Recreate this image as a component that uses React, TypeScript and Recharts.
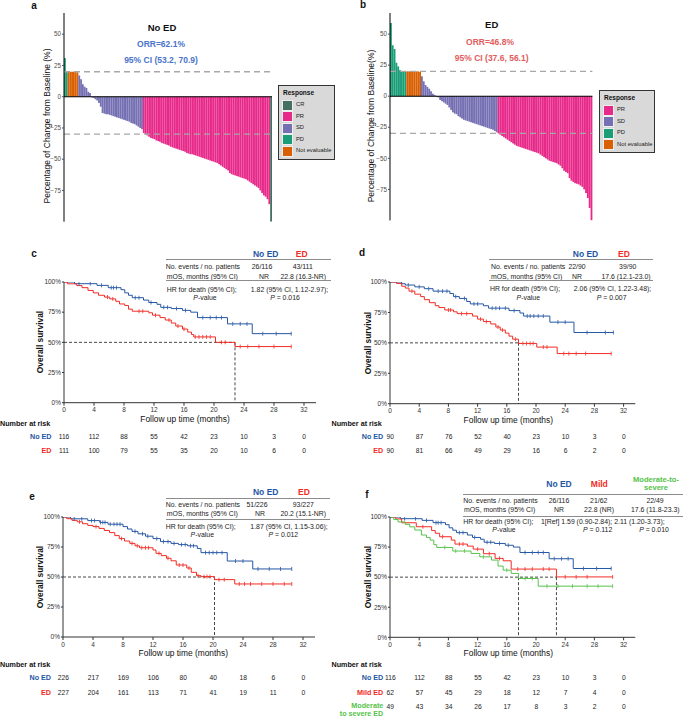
import React from 'react';
import { BarChart, Bar, XAxis, YAxis, ReferenceLine, LineChart, Line } from 'recharts';

const FONT = '"Liberation Sans", Arial, Helvetica, sans-serif';
const BLUE = '#2456a4';
const RED = '#f22b24';
const GREEN = '#56c24a';
const RESP_COLOR: Record<string, string> = { CR: '#43705f', PR: '#e7298a', SD: '#7570b3', PD: '#1b9e77', NE: '#d95f02' };

// ---- waterfall (best % change), bars in plotted order per response group ----
const noEdPD = [31, 20];
const noEdNE = [20, 20, 20, 20, 20, 19.5];
const noEdSD = [17, 14, 10, 8, 7, 4, 3, -0.5, -1, -2, -3, -5, -8, -13, -13.5, -14, -14, -14.5, -15, -15.5, -16, -16.5, -17, -17.5, -18, -18.5, -19, -19.5, -20, -21, -21.5, -22, -23, -24, -25, -26];
const noEdPR = [-29, -30, -31, -32, -33, -33.5, -34, -35, -35.5, -36, -37, -37.5, -38, -38.5, -39, -40, -40.5, -41, -41.5, -42, -42.5, -43, -43.5, -44, -45, -45.5, -46, -46, -46.5, -47, -47.5, -48, -48.5, -49, -49.5, -50, -50.5, -51, -51.5, -52, -52.5, -53, -54, -55, -56, -57, -58, -59, -61, -62, -62.5, -63, -63.5, -64, -64.5, -65, -65.5, -66, -67, -68, -69, -70, -71, -72, -73, -75, -77, -79, -80, -82, -86];
const noEdCR = [-100];

const edPD = [59, 41, 38, 27, 24, 21, 20, 20, 20];
const edNE = [20, 20, 20, 20, 20, 20, 20, 19.5];
const edSD = [16, 12, 9, 7.5, 6, 4, 2, 1, -0.5, -1, -3, -4, -5, -6, -7, -9, -11, -13, -14, -14.5, -16, -17, -18, -19, -19.5, -20, -20.5, -21, -21.5, -22, -22.5, -23, -23.5, -24, -24.5, -25, -25.5, -26, -26.5, -27, -28, -29];
const edPR = [-30, -31, -32, -33, -34, -35, -36, -37, -38, -39, -40, -40.5, -41, -41.5, -42, -42.5, -43, -43.5, -44, -44.5, -45, -45.5, -46, -47, -48, -49, -50, -51, -52, -52.5, -53, -53.5, -54, -55, -56, -58, -60, -61, -62, -66, -68, -69, -70, -70.5, -71, -72, -73, -75, -78, -82, -90, -100];

const WF_TICKS = [-100, -75, -50, -25, 0, 25, 50];

// ---- Kaplan-Meier steps [month, survival %], censor times ----
type Step = [number, number];
const cNoEdSteps: Step[] = [[0, 100], [1.4, 98.6], [4.4, 97.2], [5.9, 95.3], [7.6, 93.6], [8.1, 91], [8.6, 89], [9.1, 87], [10.6, 85], [11.3, 83], [12.4, 81.5], [12.9, 79], [14.3, 78], [15.8, 76.5], [16.9, 75], [17.8, 70.5], [21.8, 65.3], [25.1, 57.2]];
const cNoEdCensor = [2, 3.5, 5, 6.3, 6.6, 7, 9.5, 10, 11.6, 13.3, 13.8, 15, 16.2, 18.5, 19.5, 20.3, 21, 22.5, 23.5, 24.4, 26.5, 28.3, 30.3];
const cEdSteps: Step[] = [[0, 100], [0.45, 98.5], [1.7, 97], [2.4, 95.3], [3.2, 93], [3.9, 91], [4.6, 89], [5.4, 87.5], [6.1, 86], [6.9, 84], [7.4, 81.8], [8.1, 80.5], [8.6, 77.5], [9.1, 75.8], [11.3, 74.5], [11.8, 72.5], [12.8, 70.5], [13.5, 68.5], [14.3, 66], [14.9, 63.5], [15.8, 61], [16.5, 58.5], [17, 56.5], [17.3, 54.5], [20.2, 50], [22.8, 46.5]];
const cEdCensor = [5.8, 6.5, 10, 10.5, 12.2, 14, 15.2, 16, 17.5, 18, 18.5, 19, 19.5, 21, 21.5, 23.5, 24.5, 26, 28, 30.3];

const dNoEdSteps: Step[] = [[0, 100], [1.6, 98.6], [2.1, 97.5], [3.4, 96], [4.7, 94.5], [5.9, 92.5], [8.2, 90.5], [8.7, 88], [9.5, 86.5], [10.5, 84], [11, 82], [12.8, 80.5], [13.5, 78.5], [16.3, 76.5], [17.8, 74.5], [18.3, 72], [21.9, 67], [25.2, 58.5]];
const dNoEdCensor = [2.5, 4, 5.3, 6.6, 7.2, 7.8, 9, 10.2, 11.5, 12, 14, 14.5, 15, 15.8, 17, 18.8, 19.2, 19.7, 20.3, 21, 23, 24, 27, 29.5, 30.6];
const dEdSteps: Step[] = [[0, 100], [0.9, 98.8], [1.6, 96.5], [2.1, 95], [2.6, 92.5], [3.4, 90], [4.2, 88], [4.7, 85.5], [5.4, 83], [6.2, 80.5], [6.7, 79], [7.5, 77], [8.7, 75.5], [9.2, 74], [11.3, 72], [12, 69.5], [12.8, 67.5], [13.8, 65.5], [14.5, 63], [15.1, 60.5], [15.8, 58], [16.3, 55.5], [16.8, 53], [17.6, 49.5], [20.1, 46.5], [22.9, 41.2]];
const dEdCensor = [3, 8, 8.3, 9.8, 10.5, 12.4, 13.2, 14.8, 15.4, 17.2, 18.2, 18.7, 19.2, 19.6, 21, 21.5, 23.8, 24.5, 25.5, 26.8, 30.3];

const eNoEdSteps: Step[] = [[0, 100], [1, 98.5], [3.3, 97], [4.9, 95.5], [6, 94], [8, 92], [8.6, 90], [9.2, 88], [10, 86], [11, 84], [12, 82], [13, 79.5], [14.4, 78], [15.4, 77], [16.6, 76], [17.9, 73.8], [18.4, 70.3], [21.9, 63.3], [25.3, 56.7]];
const eNoEdCensor = [1.5, 2.5, 3.8, 4.2, 5, 5.3, 5.6, 6.3, 6.8, 7.2, 7.6, 9.6, 10.6, 11.3, 12.5, 13.4, 14, 14.8, 15.8, 16.3, 17, 17.4, 19, 19.5, 20, 20.5, 21.2, 23, 24, 26, 27.5, 29, 30.5];
const eEdSteps: Step[] = [[0, 100], [0.5, 98.6], [1.2, 97.2], [1.9, 96], [2.6, 94.4], [3.3, 93], [4, 92], [4.8, 90.5], [5.5, 88.8], [6.2, 87], [6.9, 84.5], [7.5, 82], [8.2, 80], [8.9, 78], [9.6, 76], [10.2, 74.4], [12, 72.5], [12.4, 69.7], [13.1, 67.8], [13.8, 65.6], [14.4, 63.5], [15.1, 60], [16.5, 57.5], [17.1, 53.9], [17.8, 51.1], [18.4, 50.3], [20.2, 47.8], [22.9, 44.2]];
const eEdCensor = [2.2, 4.4, 7.8, 9.2, 9.9, 10.5, 11, 11.4, 12.8, 14, 15.5, 16, 16.8, 18, 18.8, 19.2, 19.6, 20.8, 21.5, 23.5, 24.2, 25, 26.5, 28, 29.5, 30.5];

const fMildSteps: Step[] = [[0, 100], [0.8, 98.4], [1.6, 95.2], [3.6, 91.9], [5.7, 88.7], [6.2, 86.5], [6.8, 83.6], [8.4, 80.8], [8.9, 77.5], [10.6, 75.8], [11.4, 73.3], [12.8, 69.5], [14.4, 65.6], [15.5, 63.6], [16.6, 56.7], [22.8, 50.2]];
const fMildCensor = [4.5, 7.2, 9.5, 10, 12, 13.6, 15, 17.5, 18.5, 19.5, 21, 21.8, 24, 25.5, 27, 30.5];
const fModSteps: Step[] = [[0, 100], [0.5, 98], [1.1, 95.9], [2.1, 93.9], [2.7, 91.8], [3.4, 89.2], [4.3, 85], [5, 83], [5.5, 80.8], [6, 77], [6.4, 74.7], [8.6, 71.7], [11.1, 69.7], [12.3, 66.9], [13.9, 64.2], [14.8, 59.2], [15.5, 55.8], [16.6, 53.1], [17.6, 48.9], [20.3, 42.5]];
const fModCensor = [7.5, 9, 10.2, 12.8, 16, 18.5, 19.5, 21.5, 23, 25, 27, 28.5, 30.5];

const cMedians = [22.8];
const dMedians = [17.6];
const eMedians = [20.2];
const fMedians = [17.6, 22.8];

// ---- numbers at risk at 0,4,...,32 months ----
const MONTH_TICKS = [0, 4, 8, 12, 16, 20, 24, 28, 32];
const cRiskNoEd = [116, 112, 88, 55, 42, 23, 10, 3, 0];
const cRiskEd = [111, 100, 79, 55, 35, 20, 10, 6, 0];
const dRiskNoEd = [90, 87, 76, 52, 40, 23, 10, 3, 0];
const dRiskEd = [90, 81, 66, 49, 29, 16, 6, 2, 0];
const eRiskNoEd = [226, 217, 169, 106, 80, 40, 18, 6, 0];
const eRiskEd = [227, 204, 161, 113, 71, 41, 19, 11, 0];
const fRiskNoEd = [116, 112, 88, 55, 42, 23, 10, 3, 0];
const fRiskMild = [62, 57, 45, 29, 18, 12, 7, 4, 0];
const fRiskMod = [49, 43, 34, 26, 17, 8, 3, 2, 0];

const X_MAX = 33.6;
const TS = 6.9; // table text size

type Box = { x: number; y: number; w: number; h: number };
const boxA: Box = { x: 64, y: 13, w: 208, h: 208.7 };
const boxB: Box = { x: 390, y: 13.3, w: 202.4, h: 207.4 };
const boxC: Box = { x: 64, y: 282, w: 252, h: 120.7 };
const boxD: Box = { x: 390.3, y: 282, w: 245.3, h: 121.7 };
const boxE: Box = { x: 63.3, y: 517, w: 252, h: 120 };
const boxF: Box = { x: 390.3, y: 516.7, w: 245.3, h: 120.3 };

function group(vals: number[], r: string) {
  return vals.map(v => ({ v, r }));
}
const rowsA = [...group(noEdPD, 'PD'), ...group(noEdNE, 'NE'), ...group(noEdSD, 'SD'), ...group(noEdPR, 'PR'), ...group(noEdCR, 'CR')].map((d, i) => ({ ...d, i }));
const rowsB = [...group(edPD, 'PD'), ...group(edNE, 'NE'), ...group(edSD, 'SD'), ...group(edPR, 'PR')].map((d, i) => ({ ...d, i }));

function kmSeries(steps: Step[], censor: number[]) {
  const at = (t: number) => {
    let s = 100;
    for (const [tt, ss] of steps) if (tt <= t) s = ss;
    return s;
  };
  const pts = steps.map(([t, s]) => ({ t, s, c: false }));
  censor.forEach(t => pts.push({ t, s: at(t), c: true }));
  return pts.sort((a, b) => a.t - b.t);
}

type TP = { x: number; y: number; s?: number; b?: boolean; c?: string; a?: 'l' | 'c' | 'r'; rot?: boolean; children: React.ReactNode };
function T({ x, y, s = TS, b, c = '#222', a = 'c', rot, children }: TP) {
  const tx = a === 'l' ? '0' : a === 'r' ? '-100%' : '-50%';
  return (
    <div style={{ position: 'absolute', left: x, top: y, transform: `translate(${tx},-50%)${rot ? ' rotate(-90deg)' : ''}`, fontSize: s, fontWeight: b ? 700 : 400, color: c, whiteSpace: 'nowrap', lineHeight: 1 }}>
      {children}
    </div>
  );
}

function Rule({ x, y, w }: { x: number; y: number; w: number }) {
  return <div style={{ position: 'absolute', left: x, top: y - 0.6, width: w, height: 0, borderTop: '1.2px solid #8c8c8c' }} />;
}

function Waterfall({ box, rows }: { box: Box; rows: { v: number; r: string; i: number }[] }) {
  const padL = 30, padR = 4, padT = 2, padB = 2;
  const band = box.w / rows.length;
  const shape = (p: any) => {
    const top = Math.min(p.y, p.y + p.height);
    return <rect x={p.x} y={top} width={band} height={Math.abs(p.height)} fill={RESP_COLOR[p.payload.r]} />;
  };
  return (
    <div style={{ position: 'absolute', left: box.x - padL, top: box.y - padT }}>
      <BarChart width={box.w + padL + padR} height={box.h + padT + padB} data={rows} margin={{ top: padT, right: padR, bottom: padB, left: 0 }} barCategoryGap={0}>
        <XAxis dataKey="i" hide height={0} />
        <YAxis type="number" domain={[-100, 67]} ticks={WF_TICKS} allowDataOverflow width={padL}
          tickFormatter={(v: number) => String(v).replace('-', '\u2212')}
          tick={{ fontSize: 6.3, fill: '#4d4d4d' }} tickSize={2} tickMargin={1}
          tickLine={{ stroke: '#4d4d4d' }} axisLine={{ stroke: '#000', strokeWidth: 1 }} />
        <ReferenceLine y={20} stroke="#a8a8a8" strokeDasharray="6 4" strokeWidth={1.3} />
        <ReferenceLine y={-30} stroke="#a8a8a8" strokeDasharray="6 4" strokeWidth={1.3} />
        <Bar dataKey="v" isAnimationActive={false} shape={shape} />
        <ReferenceLine y={0} stroke="#000" strokeWidth={1.1} />
      </BarChart>
    </div>
  );
}

type Curve = { steps: Step[]; censor: number[]; color: string };
function KM({ box, curves, medians }: { box: Box; curves: Curve[]; medians: number[] }) {
  const padL = 40, padR = 8, padT = 6, axisH = 20;
  const censorDot = (color: string) => (p: any) =>
    p.payload && p.payload.c
      ? <line key={`c${p.index}`} x1={p.cx} x2={p.cx} y1={p.cy - 2} y2={p.cy + 2} stroke={color} strokeWidth={0.8} />
      : <g key={`n${p.index}`} />;
  const mMax = Math.max(...medians);
  return (
    <div style={{ position: 'absolute', left: box.x - padL, top: box.y - padT }}>
      <LineChart width={box.w + padL + padR} height={box.h + padT + axisH} margin={{ top: padT, right: padR, bottom: 0, left: 0 }}>
        <XAxis dataKey="t" type="number" domain={[0, X_MAX]} ticks={MONTH_TICKS} allowDataOverflow interval={0} height={axisH}
          tick={{ fontSize: 6.5, fill: '#333' }} tickSize={3} tickMargin={2}
          tickLine={{ stroke: '#333' }} axisLine={{ stroke: '#333', strokeWidth: 1 }} />
        <YAxis type="number" domain={[0, 100]} ticks={[0, 25, 50, 75, 100]} allowDataOverflow width={padL}
          tickFormatter={(v: number) => `${v}%`}
          tick={{ fontSize: 6.5, fill: '#333' }} tickSize={2} tickMargin={1}
          tickLine={{ stroke: '#333' }} axisLine={{ stroke: '#333', strokeWidth: 1 }} />
        <ReferenceLine segment={[{ x: 0, y: 50 }, { x: mMax, y: 50 }]} stroke="#333" strokeDasharray="3 2" strokeWidth={0.9} />
        {medians.map(m => (
          <ReferenceLine key={m} segment={[{ x: m, y: 50 }, { x: m, y: 0 }]} stroke="#333" strokeDasharray="3 2" strokeWidth={0.9} />
        ))}
        {curves.map((c, k) => (
          <Line key={k} data={kmSeries(c.steps, c.censor)} dataKey="s" type="stepAfter" stroke={c.color} strokeWidth={1}
            dot={censorDot(c.color)} activeDot={false} isAnimationActive={false} />
        ))}
      </LineChart>
    </div>
  );
}

function RiskRow({ box, y, vals }: { box: Box; y: number; vals: number[] }) {
  return (
    <>
      {vals.map((v, i) => (
        <T key={i} x={box.x + (MONTH_TICKS[i] * box.w) / X_MAX} y={y} s={6.7}>{v}</T>
      ))}
    </>
  );
}

function LegendBox({ x, y, w, h, items }: { x: number; y: number; w: number; h: number; items: string[] }) {
  const labels: Record<string, string> = { CR: 'CR', PR: 'PR', SD: 'SD', PD: 'PD', NE: 'Not evaluable' };
  return (
    <div style={{ position: 'absolute', left: x, top: y, width: w, height: h, background: '#d9d9d9', border: '1.2px solid #333', boxSizing: 'border-box' }}>
      <div style={{ position: 'absolute', left: 4, top: 4, fontSize: 6.5, fontWeight: 700, color: '#111', lineHeight: 1 }}>Response</div>
      {items.map((r, i) => (
        <div key={r} style={{ position: 'absolute', left: 4, top: 14.5 + i * 11.5, display: 'flex', alignItems: 'center' }}>
          <div style={{ width: 9, height: 9, background: RESP_COLOR[r], outline: '0.5px solid #eee' }} />
          <div style={{ marginLeft: 4, fontSize: 5.8, color: '#222', lineHeight: 1 }}>{labels[r]}</div>
        </div>
      ))}
    </div>
  );
}

export default function App() {
  return (
    <div style={{ position: 'absolute', left: 0, top: 0, width: 683, height: 717, background: '#fff', fontFamily: FONT, overflow: 'hidden' }}>
      {/* panel a */}
      <T x={34} y={6} s={10} b c="#111">a</T>
      <Waterfall box={boxA} rows={rowsA} />
      <T x={47} y={126} s={8.5} rot c="#111">Percentage of Change from Baseline (%)</T>
      <T x={162} y={28} s={9.5} b c="#111">No ED</T>
      <T x={161} y={44} s={8.5} b c="#4a74c9">ORR=62.1%</T>
      <T x={161} y={59.7} s={8.5} b c="#4a74c9">95% CI (53.2, 70.9)</T>
      <LegendBox x={278} y={85} w={57} h={75} items={['CR', 'PR', 'SD', 'PD', 'NE']} />

      {/* panel b */}
      <T x={363} y={5} s={10} b c="#111">b</T>
      <Waterfall box={boxB} rows={rowsB} />
      <T x={371} y={126} s={8.5} rot c="#111">Percentage of Change from Baseline(%)</T>
      <T x={491.7} y={25} s={9.5} b c="#111">ED</T>
      <T x={490} y={42.3} s={8.5} b c="#e25c5c">ORR=46.8%</T>
      <T x={491.7} y={57.7} s={8.5} b c="#e25c5c">95% CI (37.6, 56.1)</T>
      <LegendBox x={599} y={90} w={56} h={63} items={['PR', 'SD', 'PD', 'NE']} />

      {/* panel c */}
      <T x={34} y={254} s={10} b c="#111">c</T>
      <KM box={boxC} medians={cMedians} curves={[{ steps: cNoEdSteps, censor: cNoEdCensor, color: BLUE }, { steps: cEdSteps, censor: cEdCensor, color: RED }]} />
      <T x={40} y={342} s={8.4} b rot c="#111">Overall survival</T>
      <T x={185} y={419} s={8.4} c="#111">Follow up time (months)</T>
      <T x={265.7} y={253.7} s={8.5} b c={BLUE}>No ED</T>
      <T x={301.7} y={253.7} s={8.5} b c={RED}>ED</T>
      <Rule x={165.7} y={260} w={165.3} />
      <T x={165.7} y={266.7} a="l">No. events / no. patients</T>
      <T x={262} y={266.7}>26/116</T>
      <T x={302.7} y={266.7}>43/111</T>
      <T x={166.7} y={277} a="l">mOS, months (95% CI)</T>
      <T x={264} y={277}>NR</T>
      <T x={303.3} y={277}>22.8 (16.3-NR)</T>
      <Rule x={165.7} y={281} w={165.3} />
      <T x={166.7} y={289.5} a="l">HR for death (95% CI);</T>
      <T x={289.5} y={289.5}>1.82 (95% CI, 1.12-2.97);</T>
      <T x={205} y={297.5}><i>P</i>-value</T>
      <T x={285} y={297.5}><i>P</i> = 0.016</T>
      <T x={0} y={424.3} a="l" s={7.2} b c="#111">Number at risk</T>
      <T x={51.5} y={437.3} a="r" s={7.2} b c={BLUE}>No ED</T>
      <RiskRow box={boxC} y={437.3} vals={cRiskNoEd} />
      <T x={51.5} y={451} a="r" s={7.2} b c={RED}>ED</T>
      <RiskRow box={boxC} y={451} vals={cRiskEd} />

      {/* panel d */}
      <T x={362} y={253} s={10} b c="#111">d</T>
      <KM box={boxD} medians={dMedians} curves={[{ steps: dNoEdSteps, censor: dNoEdCensor, color: BLUE }, { steps: dEdSteps, censor: dEdCensor, color: RED }]} />
      <T x={368.3} y={343} s={8.4} b rot c="#111">Overall survival</T>
      <T x={508.3} y={420} s={8.4} c="#111">Follow up time (months)</T>
      <T x={585.5} y={253.7} s={8.5} b c={BLUE}>No ED</T>
      <T x={624} y={253.7} s={8.5} b c={RED}>ED</T>
      <Rule x={489.3} y={260} w={164} />
      <T x={491} y={266.7} a="l">No. events / no. patients</T>
      <T x={577} y={266.7}>22/90</T>
      <T x={627.7} y={266.7}>39/90</T>
      <T x={491} y={277} a="l">mOS, months (95% CI)</T>
      <T x={577} y={277}>NR</T>
      <T x={626} y={277}>17.6 (12.1-23.0)</T>
      <Rule x={489.3} y={281} w={164} />
      <T x={490} y={289} a="l">HR for death (95% CI);</T>
      <T x={612.5} y={289}>2.06 (95% CI, 1.22-3.48);</T>
      <T x={528.3} y={297.5}><i>P</i>-value</T>
      <T x={611.7} y={297.5}><i>P</i> = 0.007</T>
      <T x={331.5} y={424.3} a="l" s={7.2} b c="#111">Number at risk</T>
      <T x={383.3} y={437.3} a="r" s={7.2} b c={BLUE}>No ED</T>
      <RiskRow box={boxD} y={437.3} vals={dRiskNoEd} />
      <T x={383.3} y={451} a="r" s={7.2} b c={RED}>ED</T>
      <RiskRow box={boxD} y={451} vals={dRiskEd} />

      {/* panel e */}
      <T x={32} y={497} s={10} b c="#111">e</T>
      <KM box={boxE} medians={eMedians} curves={[{ steps: eNoEdSteps, censor: eNoEdCensor, color: BLUE }, { steps: eEdSteps, censor: eEdCensor, color: RED }]} />
      <T x={40} y={577} s={8.4} b rot c="#111">Overall survival</T>
      <T x={183.3} y={653.3} s={8.4} c="#111">Follow up time (months)</T>
      <T x={265.7} y={492.3} s={8.5} b c={BLUE}>No ED</T>
      <T x={304} y={492.3} s={8.5} b c={RED}>ED</T>
      <Rule x={165.7} y={499} w={164.3} />
      <T x={165.7} y={505} a="l">No. events / no. patients</T>
      <T x={257} y={505}>51/226</T>
      <T x={303.3} y={505}>93/227</T>
      <T x={166.7} y={514} a="l">mOS, months (95% CI)</T>
      <T x={260} y={514}>NR</T>
      <T x={303.3} y={514}>20.2 (15.1-NR)</T>
      <Rule x={165.7} y={520} w={164.3} />
      <T x={165.7} y={526.7} a="l">HR for death (95% CI);</T>
      <T x={289} y={526.7}>1.87 (95% CI, 1.15-3.06);</T>
      <T x={202.3} y={534.7}><i>P</i>-value</T>
      <T x={283.3} y={534.7}><i>P</i> = 0.012</T>
      <T x={0} y={665} a="l" s={7.2} b c="#111">Number at risk</T>
      <T x={51} y={678.3} a="r" s={7.2} b c={BLUE}>No ED</T>
      <RiskRow box={boxE} y={678.3} vals={eRiskNoEd} />
      <T x={51} y={692.7} a="r" s={7.2} b c={RED}>ED</T>
      <RiskRow box={boxE} y={692.7} vals={eRiskEd} />

      {/* panel f */}
      <T x={367} y={495} s={10} b c="#111">f</T>
      <KM box={boxF} medians={fMedians} curves={[{ steps: cNoEdSteps, censor: cNoEdCensor, color: BLUE }, { steps: fMildSteps, censor: fMildCensor, color: RED }, { steps: fModSteps, censor: fModCensor, color: GREEN }]} />
      <T x={368.3} y={577} s={8.4} b rot c="#111">Overall survival</T>
      <T x={508.3} y={653.3} s={8.4} c="#111">Follow up time (months)</T>
      <T x={559} y={484} s={8.5} b c={BLUE}>No ED</T>
      <T x={599.3} y={484} s={8.5} b c={RED}>Mild</T>
      <T x={656} y={480} s={7.6} b c={GREEN}>Moderate-to-</T>
      <T x={656} y={488.3} s={7.6} b c={GREEN}>severe</T>
      <Rule x={462.7} y={494.3} w={220.3} />
      <T x={463.3} y={501} a="l">No. events / no. patients</T>
      <T x={559} y={501}>26/116</T>
      <T x={598.7} y={501}>21/62</T>
      <T x={655} y={501}>22/49</T>
      <T x={464} y={510.3} a="l">mOS, months (95% CI)</T>
      <T x={559} y={510.3}>NR</T>
      <T x={599} y={510.3}>22.8 (NR)</T>
      <T x={655.3} y={510.3}>17.6 (11.8-23.3)</T>
      <Rule x={462.7} y={516.3} w={220.3} />
      <T x={463.3} y={522.3} a="l">HR for death (95% CI);</T>
      <T x={541} y={522.3} a="l">1[Ref] 1.59 (0.90-2.84); 2.11 (1.20-3.73);</T>
      <T x={504} y={530.3}><i>P</i>-value</T>
      <T x={597.7} y={530.3}><i>P</i> = 0.112</T>
      <T x={654} y={530.3}><i>P</i> = 0.010</T>
      <T x={331.5} y={665} a="l" s={7.2} b c="#111">Number at risk</T>
      <T x={383.3} y={678.3} a="r" s={7.2} b c={BLUE}>No ED</T>
      <RiskRow box={boxF} y={678.3} vals={fRiskNoEd} />
      <T x={383.3} y={692.7} a="r" s={7.2} b c={RED}>Mild ED</T>
      <RiskRow box={boxF} y={692.7} vals={fRiskMild} />
      <T x={383.3} y={706.3} a="r" s={7.2} b c={GREEN}>Moderate</T>
      <T x={383.3} y={714} a="r" s={7.2} b c={GREEN}>to severe ED</T>
      <RiskRow box={boxF} y={706.7} vals={fRiskMod} />
    </div>
  );
}
